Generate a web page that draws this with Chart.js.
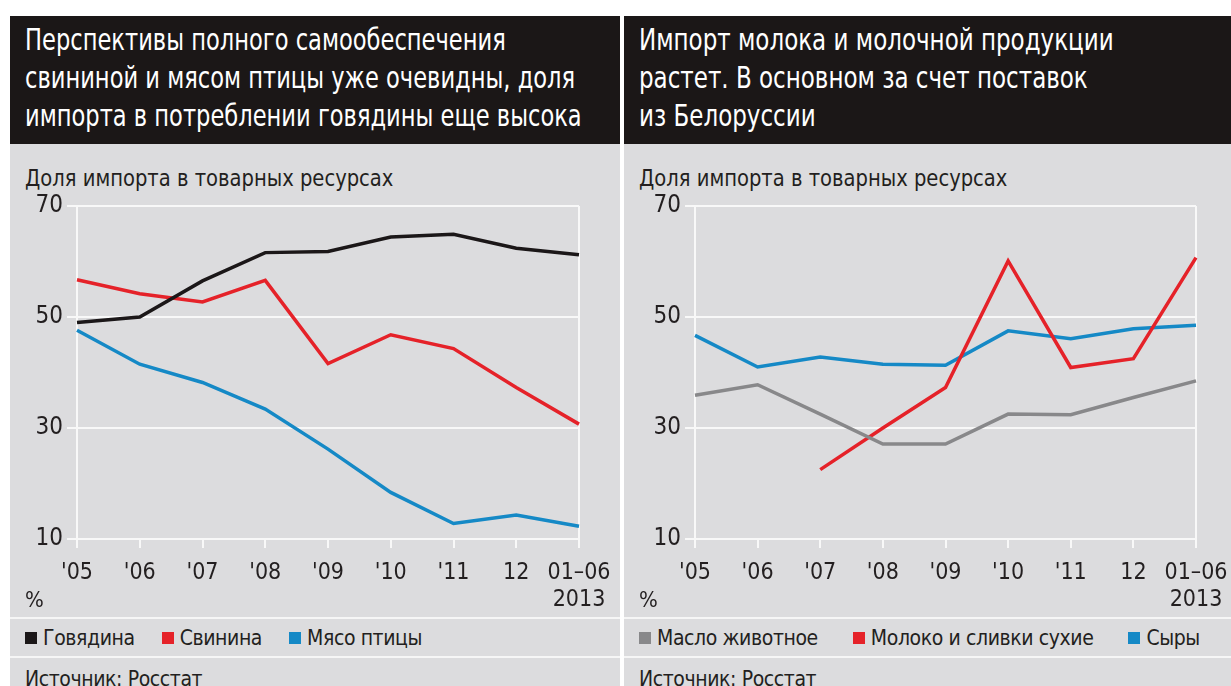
<!DOCTYPE html>
<html lang="ru">
<head>
    <meta charset="utf-8">
    <title>Доля импорта в товарных ресурсах</title>
    <script src="https://cdn.jsdelivr.net/npm/chart.js"></script>
    <style>
        body { margin: 0; width: 1231px; height: 686px; background: #fff; overflow: hidden; position: relative;
               font-family: 'Liberation Sans Narrow', 'DejaVu Sans Condensed', sans-serif; font-stretch: condensed; color: #231f20; }
        .panel { position: absolute; top: 16px; bottom: 0; background: #dcdcde; overflow: hidden; }
        #left { left: 10px; width: 610px; }
        #right { left: 624px; width: 607px; }
        /* black title bar, text squeezed to the narrow newspaper face */
        .head { position: absolute; left: 0; top: 0; right: 0; height: 128px; background: #1b1717; color: #fff; }
        .head div { position: absolute; left: 15px; top: 4px; font-size: 31px; line-height: 38px; white-space: nowrap;
                    transform: scaleX(0.825); transform-origin: 0 0; }
        #left .head div { transform: scaleX(0.81); }
        .sub { position: absolute; left: 15px; top: 150px; font-size: 23px; line-height: 24px; white-space: nowrap;
               transform: scaleX(0.945); transform-origin: 0 0; }
        .pct { position: absolute; left: 15px; top: 571px; font-size: 22px; line-height: 26px; }
        .rule { position: absolute; left: 0; right: 0; height: 2px; background: #f6f6f6; }
        .legend { position: absolute; left: 15px; top: 609px; font-size: 21px; letter-spacing: -0.4px; line-height: 26px; white-space: nowrap; display: flex; }
        .legend span.item { display: flex; align-items: center; margin-right: 27px; }
        #milkLegend span.item { margin-right: 35px; }
        .legend i { display: inline-block; width: 12px; height: 12px; margin-right: 6px; }
        .src { position: absolute; left: 15px; top: 650px; font-size: 21px; letter-spacing: -0.4px; line-height: 26px; white-space: nowrap; }
        canvas { position: absolute; top: 174px; left: 0; }
    </style>
</head>
<body>
    <div class="panel" id="left">
        <div class="head"><div>Перспективы полного самообеспечения<br>свининой и мясом птицы уже очевидны, доля<br>импорта в потреблении говядины еще высока</div></div>
        <div class="sub">Доля импорта в товарных ресурсах</div>
        <canvas id="meatChart" width="630" height="422"></canvas>
        <div class="pct">%</div>
        <div class="rule" style="top:601px"></div>
        <div class="legend" id="meatLegend"></div>
        <div class="rule" style="top:640px"></div>
        <div class="src">Источник: Росстат</div>
    </div>
    <div class="panel" id="right">
        <div class="head"><div>Импорт молока и молочной продукции<br>растет. В основном за счет поставок<br>из Белоруссии</div></div>
        <div class="sub">Доля импорта в товарных ресурсах</div>
        <canvas id="milkChart" width="630" height="422"></canvas>
        <div class="pct">%</div>
        <div class="rule" style="top:601px"></div>
        <div class="legend" id="milkLegend"></div>
        <div class="rule" style="top:640px"></div>
        <div class="src">Источник: Росстат</div>
    </div>
<script>
// years on the x axis, last one is the first half of 2013
const years = ["'05", "'06", "'07", "'08", "'09", "'10", "'11", '12', ['01–06', '2013']];
const yTicks = [10, 30, 50, 70];

// left chart: meat
const beef    = [49, 50, 56.5, 61.6, 61.8, 64.4, 64.9, 62.4, 61.2];
const pork    = [56.7, 54.2, 52.7, 56.6, 41.6, 46.8, 44.3, 37.3, 30.7];
const poultry = [47.6, 41.5, 38.2, 33.4, 26.2, 18.4, 12.8, 14.3, 12.3];

// right chart: dairy
const butter = [35.9, 37.8, 32.5, 27.1, 27.1, 32.5, 32.4, 35.5, 38.5];
const milkPowder = [null, null, 22.5, 30, 37.3, 60.1, 40.9, 42.5, 60.7];
const cheese = [46.7, 41, 42.8, 41.5, 41.3, 47.5, 46.1, 47.9, 48.5];

const meatNames = ['Говядина', 'Свинина', 'Мясо птицы'];
const milkNames = ['Масло животное', 'Молоко и сливки сухие', 'Сыры'];

const BLACK = '#1b1718', RED = '#e52229', BLUE = '#1589c6', GREY = '#88888a';
const FONT = "'Liberation Sans Narrow', 'DejaVu Sans Condensed', sans-serif";
const TEXT = '#231f20';

function makeChart(id, sets, padLeft, padRight) {
    const last = years.length - 1;
    return new Chart(document.getElementById(id), {
        type: 'line',
        data: {
            labels: years,
            datasets: sets.map(s => ({
                label: s.label, data: s.data, borderColor: s.color, backgroundColor: s.color,
                borderWidth: 3.5, pointRadius: 0, tension: 0, spanGaps: false
            }))
        },
        options: {
            responsive: false, animation: false,
            layout: { padding: { left: padLeft, right: padRight, top: 12, bottom: 0 } },
            plugins: { legend: { display: false }, tooltip: { enabled: false } },
            scales: {
                x: {
                    grid: {
                        color: c => (c.index === 0 || c.index === last) ? '#f8f8f8' : 'rgba(0,0,0,0)',
                        lineWidth: 2, tickColor: '#f8f8f8', tickWidth: 2, tickLength: 9
                    },
                    border: { display: false },
                    ticks: { color: TEXT, font: { family: FONT, size: 23, lineHeight: 1.2 }, padding: 11, maxRotation: 0, autoSkip: false },
                    afterFit: s => { s.height = 73; }
                },
                y: {
                    min: 10, max: 70,
                    afterBuildTicks: s => { s.ticks = yTicks.map(v => ({ value: v })); },
                    grid: { color: '#f8f8f8', lineWidth: 2, tickLength: 10 },
                    border: { color: '#f8f8f8', width: 2 },
                    ticks: { color: TEXT, font: { family: FONT, size: 24, lineHeight: 1 }, padding: 4 },
                    afterFit: s => { s.width = 52; }
                }
            }
        }
    });
}

function makeLegend(id, sets) {
    const box = document.getElementById(id);
    sets.forEach(s => {
        const item = document.createElement('span');
        item.className = 'item';
        item.innerHTML = '<i style="background:' + s.color + '"></i>' + s.label;
        box.appendChild(item);
    });
}

const meatSets = [
    { label: meatNames[0], data: beef, color: BLACK },
    { label: meatNames[1], data: pork, color: RED },
    { label: meatNames[2], data: poultry, color: BLUE }
];
const milkSets = [
    { label: milkNames[0], data: butter, color: GREY },
    { label: milkNames[1], data: milkPowder, color: RED },
    { label: milkNames[2], data: cheese, color: BLUE }
];

// canvases are 630 wide, the panels clip them; right padding puts the plot edge in place
makeChart('meatChart', meatSets, 15, 61);
makeChart('milkChart', milkSets, 19, 58);
makeLegend('meatLegend', meatSets);
makeLegend('milkLegend', milkSets);
</script>
</body>
</html>
